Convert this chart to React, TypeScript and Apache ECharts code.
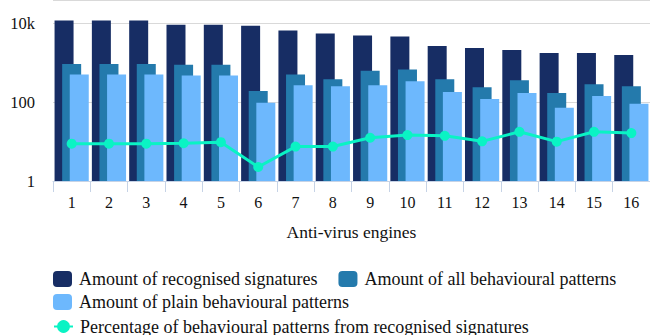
import React, { useEffect, useRef } from "react";
import * as echarts from "echarts";

const categories = ["1", "2", "3", "4", "5", "6", "7", "8", "9", "10", "11", "12", "13", "14", "15", "16"];
const recognisedSignatures = [12000, 12000, 12000, 9400, 9400, 8900, 6700, 5600, 5000, 4750, 2700, 2400, 2130, 1800, 1800, 1600];
const allBehaviouralPatterns = [950, 950, 950, 900, 900, 193, 510, 385, 640, 680, 385, 243, 362, 172, 288, 257];
const plainBehaviouralPatterns = [510, 510, 510, 482, 482, 97, 272, 257, 272, 342, 182, 122, 172, 73, 145, 92];
const percentagePatterns = [8.9, 8.9, 8.9, 9.1, 9.7, 2.27, 7.5, 7.5, 12.6, 14.7, 14.1, 10.2, 17.8, 10.0, 17.8, 16.5];
const yTickLabels: Record<number, string> = { 1: "1", 100: "100", 10000: "10k" };

const names = [
  "Amount of recognised signatures",
  "Amount of all behavioural patterns",
  "Amount of plain behavioural patterns",
  "Percentage of behavioural patterns from recognised signatures",
];

const FONT = "'Liberation Serif', 'DejaVu Serif', serif";

export default function App() {
  const ref = useRef<HTMLDivElement>(null);
  useEffect(() => {
    if (!ref.current) return;
    const chart = echarts.init(ref.current, undefined, { renderer: "svg" });
    const legendBase = {
      orient: "horizontal" as const,
      left: 53,
      padding: 0,
      itemWidth: 19,
      itemHeight: 16,
      itemGap: 21,
      textStyle: { fontFamily: FONT, fontSize: 18, color: "#111", padding: [0, 0, 0, 2] },
    };
    chart.setOption({
      animation: false,
      textStyle: { fontFamily: FONT },
      grid: { left: 53, right: -6, top: -4.2, bottom: 154, containLabel: false },
      legend: [
        { ...legendBase, top: 270, data: [names[0], names[1]] },
        { ...legendBase, top: 293, data: [names[2]] },
        { ...legendBase, top: 317.5, data: [names[3]] },
      ],
      xAxis: {
        type: "category",
        data: categories,
        name: "Anti-virus engines",
        nameLocation: "middle",
        nameGap: 42,
        nameTextStyle: { fontFamily: FONT, fontSize: 17.5, color: "#111" },
        axisLine: { lineStyle: { color: "#c6d3e6", width: 1 } },
        axisTick: { show: true, length: 11, lineStyle: { color: "#c6d3e6" } },
        axisLabel: { fontFamily: FONT, fontSize: 16, color: "#111", margin: 13, interval: 0 },
      },
      yAxis: {
        type: "log",
        logBase: 100,
        min: 1,
        max: 40000,
        axisLine: { show: false },
        axisTick: { show: false },
        splitLine: { show: true, lineStyle: { color: "#d9d9d9", width: 1 } },
        axisLabel: {
          fontFamily: FONT,
          fontSize: 16.5,
          color: "#111",
          margin: 18,
          showMaxLabel: false,
          formatter: (v: number) => yTickLabels[Math.round(v)] ?? "",
        },
      },
      series: [
        {
          name: names[0],
          type: "bar",
          data: recognisedSignatures,
          barWidth: 19,
          barGap: "-60%",
          itemStyle: { color: "#172d64" },
        },
        {
          name: names[1],
          type: "bar",
          data: allBehaviouralPatterns,
          barWidth: 19,
          barGap: "-60%",
          itemStyle: { color: "#247aac" },
        },
        {
          name: names[2],
          type: "bar",
          data: plainBehaviouralPatterns,
          barWidth: 19,
          barGap: "-60%",
          itemStyle: { color: "#6db8fd" },
        },
        {
          name: names[3],
          type: "line",
          data: percentagePatterns,
          symbol: "circle",
          symbolSize: 10,
          lineStyle: { color: "#0af3c4", width: 3 },
          itemStyle: { color: "#0af3c4" },
          z: 5,
        },
      ],
    });
    return () => chart.dispose();
  }, []);
  return (
    <div style={{ position: "fixed", left: 0, top: 0, width: 650, height: 335, overflow: "hidden", background: "#fff" }}>
      <div ref={ref} style={{ width: 650, height: 335 }} />
    </div>
  );
}
